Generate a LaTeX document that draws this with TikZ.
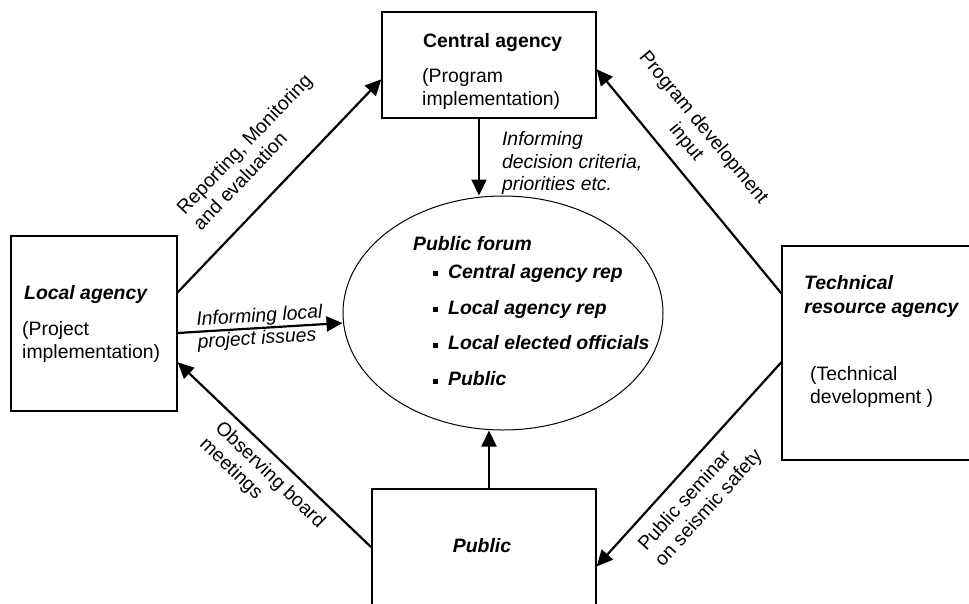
\documentclass[tikz,border=0pt]{standalone}
\usepackage{fontspec}
\setmainfont{Liberation Sans}
\usetikzlibrary{arrows.meta,shapes.geometric}

\newcommand{\diagfont}{\fontsize{19.4}{22.5}\selectfont}
\newcommand{\sq}{\rule[2pt]{5pt}{5pt}\hspace{10pt}}

\begin{document}
\begin{tikzpicture}[x=1pt, y=-1pt,
		every node/.style={font=\diagfont},
		box/.style={draw, rectangle, line width=1.4pt},
		txt/.style={inner sep=0pt, anchor=base west, align=left},
		lbl/.style={inner sep=0pt, align=left},
		bi/.style={font=\diagfont\bfseries\itshape},
		flow/.style={-{Triangle[length=16pt, width=15pt]}, line width=2.2pt}]
	
	\useasboundingbox (0,0) rectangle (969,603);
	\clip (0,0) rectangle (969,603);
	
	% the four agencies and the forum
	\node[box, minimum width=214pt, minimum height=106pt] (central) at (489,65) {};
	\node[box, minimum width=166pt, minimum height=175pt] (local) at (94,323.5) {};
	\node[box, minimum width=188pt, minimum height=214pt] (tech) at (876,353) {};
	\node[box, minimum width=224pt, minimum height=121pt] (public) at (484,549.5) {};
	\node[draw, ellipse, line width=1pt, minimum width=320pt, minimum height=234pt] (forum) at (503,313) {};
	
	% base west sits on the last line of each text
	\node[txt, font=\diagfont\bfseries] (centralname) at (423,47.3) {Central agency};
	\node[txt] (centralrole) at (422,105) {(Program\\implementation)};
	
	\node[txt, bi] (localname) at (24,299.3) {Local agency};
	\node[txt] (localrole) at (22,358) {(Project\\implementation)};
	
	\node[txt, bi] (techname) at (804,313) {Technical\\[1.5pt]resource agency};
	\node[txt] (techrole) at (810,403) {(Technical\\development )};
	
	\node[bi, inner sep=0pt, anchor=base] (publicname) at (482,552) {Public};
	
	\node[txt, bi] (forumname) at (413,250.7) {Public forum};
	\node[txt, bi] (members) at (433,385.7) {\sq Central agency rep\\[13.3pt]\sq Local agency rep\\[13.3pt]\sq Local elected officials\\[13.3pt]\sq Public};
	
	% flows between them
	\draw[flow] ([yshift=-57pt]local.north east) -- ([yshift=-68pt]central.north west)
		node[lbl, pos=0.52, sloped, above=24pt] {Reporting, Monitoring\\and evaluation};
	\draw[flow] ([yshift=-48pt]tech.north west) -- ([yshift=-58pt]central.north east)
		node[lbl, pos=0.61, sloped, above=12pt, align=center] {Program development\\input};
	
	\coordinate (cs) at ([xshift=-10pt]central.south);
	\draw[flow] (cs) -- (cs |- forum.north)
		node[lbl, midway, right=22pt, yshift=-6pt, font=\diagfont\itshape] {Informing\\decision criteria,\\priorities etc.};
	
	\draw[flow] ([yshift=-9.5pt]local.east) -- ([yshift=-10pt]forum.west)
		node[lbl, midway, sloped, font=\diagfont\itshape] {Informing local\\project issues};
	\draw[flow] ([yshift=-59pt]public.north west) -- ([yshift=-127pt]local.north east)
		node[lbl, pos=0.46, sloped, below=8pt] {Observing board\\meetings};
	
	\coordinate (ps) at ([xshift=5pt]public.north);
	\draw[flow] (ps) -- (ps |- forum.south);
	
	\draw[flow] ([yshift=-117pt]tech.north west) -- ([yshift=-78pt]public.north east)
		node[lbl, pos=0.57, sloped, below=12pt] {Public seminar\\on seismic safety};
	
\end{tikzpicture}
\end{document}
